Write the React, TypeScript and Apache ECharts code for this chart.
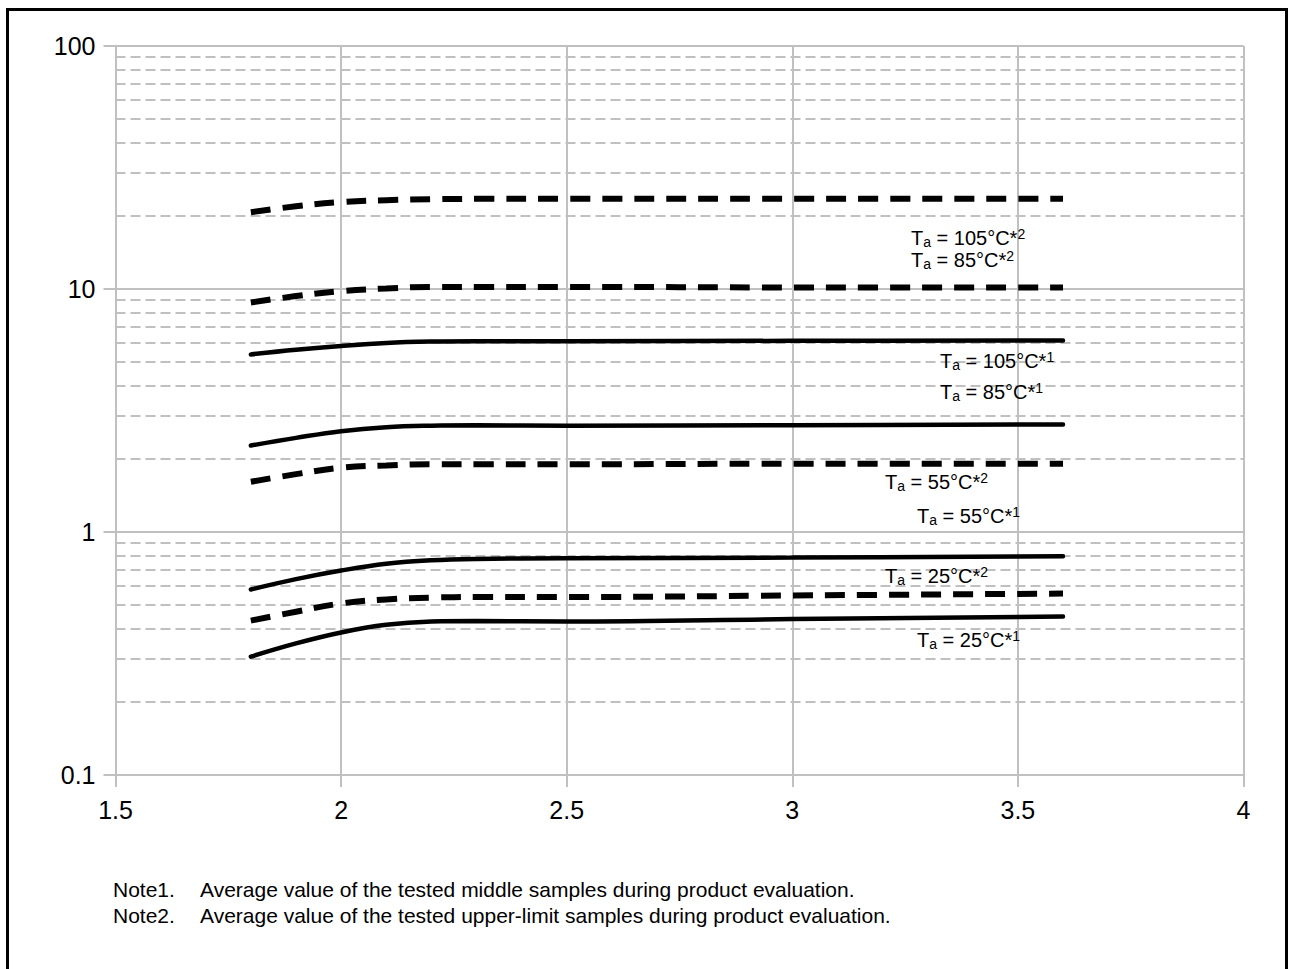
import React, { useEffect, useRef } from "react";
import * as echarts from "echarts";

// Forward voltage (x) vs value (log y)
const xValues = [1.8, 1.9, 2.0, 2.1, 2.2, 2.3, 2.5, 3.0, 3.6];

const ta105Upper = [20.7, 21.9, 22.8, 23.2, 23.4, 23.5, 23.5, 23.5, 23.5];
const ta85Upper = [8.8, 9.35, 9.8, 10.05, 10.2, 10.2, 10.2, 10.15, 10.15];
const ta105Mid = [5.38, 5.62, 5.83, 6.0, 6.08, 6.1, 6.1, 6.12, 6.14];
const ta85Mid = [2.27, 2.44, 2.6, 2.7, 2.74, 2.75, 2.74, 2.75, 2.77];
const ta55Upper = [1.61, 1.73, 1.84, 1.88, 1.9, 1.9, 1.9, 1.91, 1.91];
const ta55Mid = [0.58, 0.64, 0.694, 0.74, 0.765, 0.775, 0.78, 0.785, 0.795];
const ta25Upper = [0.432, 0.47, 0.508, 0.528, 0.537, 0.54, 0.54, 0.548, 0.558];
const ta25Mid = [0.307, 0.348, 0.386, 0.415, 0.428, 0.43, 0.428, 0.438, 0.449];

const xTicks = [1.5, 2, 2.5, 3, 3.5, 4];
const yMajor = [0.1, 1, 10, 100];
const yMinor = [0.2, 0.3, 0.4, 0.5, 0.6, 0.7, 0.8, 0.9, 2, 3, 4, 5, 6, 7, 8, 9, 20, 30, 40, 50, 60, 70, 80, 90];

const curveLabels = [
  { temp: "105", note: "2", x: 911, y: 237.5 },
  { temp: "85", note: "2", x: 911, y: 260 },
  { temp: "105", note: "1", x: 940, y: 360.5 },
  { temp: "85", note: "1", x: 940, y: 391.5 },
  { temp: "55", note: "2", x: 885, y: 481.5 },
  { temp: "55", note: "1", x: 917, y: 516 },
  { temp: "25", note: "2", x: 885, y: 576 },
  { temp: "25", note: "1", x: 917, y: 640 },
];

const notes = [
  { head: "Note1.", body: "Average value of the tested middle samples during product evaluation." },
  { head: "Note2.", body: "Average value of the tested upper-limit samples during product evaluation." },
];

const FONT = "'Liberation Sans', Arial, Helvetica, sans-serif";
const GRID_GRAY = "#c0c0c0";

function pairs(vals: number[]) {
  return xValues.map((x, i) => [x, vals[i]]);
}

export default function App() {
  const ref = useRef<HTMLDivElement>(null);
  useEffect(() => {
    if (!ref.current) return;
    const chart = echarts.init(ref.current, undefined, { renderer: "svg" });

    const dashedSeries = (name: string, vals: number[]) => ({
      name,
      type: "line",
      data: pairs(vals),
      smooth: 0.4,
      symbol: "none",
      z: 5,
      lineStyle: { color: "#000", width: 6, type: [20, 12], cap: "butt" },
    });
    const solidSeries = (name: string, vals: number[]) => ({
      name,
      type: "line",
      data: pairs(vals),
      smooth: 0.4,
      symbol: "none",
      z: 5,
      lineStyle: { color: "#000", width: 4.5, type: "solid", cap: "round" },
    });

    const graphics: any[] = [
      {
        type: "rect",
        shape: { x: 7.5, y: 9.5, width: 1279, height: 1000 },
        style: { fill: "none", stroke: "#000", lineWidth: 3 },
        silent: true,
      },
    ];
    curveLabels.forEach((l) => {
      graphics.push({
        type: "text",
        x: l.x,
        y: l.y,
        z: 10,
        style: {
          text: `{t|T}{s|a}{t| = ${l.temp}°C*}{p|${l.note}}`,
          align: "left",
          verticalAlign: "middle",
          fill: "#000",
          rich: {
            t: { fontSize: 20, fontFamily: FONT, lineHeight: 22, fill: "#000" },
            s: { fontSize: 14, fontFamily: FONT, lineHeight: 12, verticalAlign: "bottom", fill: "#000" },
            p: { fontSize: 14, fontFamily: FONT, lineHeight: 12, verticalAlign: "top", fill: "#000" },
          },
        },
      });
    });
    notes.forEach((n, i) => {
      const y = 889.5 + i * 26;
      graphics.push({
        type: "text",
        x: 113,
        y,
        style: { text: n.head, fontSize: 21, fontFamily: FONT, fill: "#000", align: "left", verticalAlign: "middle" },
      });
      graphics.push({
        type: "text",
        x: 200,
        y,
        style: { text: n.body, fontSize: 21, fontFamily: FONT, fill: "#000", align: "left", verticalAlign: "middle" },
      });
    });

    chart.setOption({
      animation: false,
      backgroundColor: "#fff",
      grid: { left: 115.5, right: 46.5, top: 46, bottom: 194, containLabel: false },
      xAxis: {
        type: "value",
        min: xTicks[0],
        max: xTicks[xTicks.length - 1],
        interval: 0.5,
        axisLine: { show: true, lineStyle: { color: GRID_GRAY, width: 2 } },
        axisTick: { show: true, length: 12, lineStyle: { color: GRID_GRAY, width: 2 } },
        axisLabel: { color: "#000", fontSize: 25, fontFamily: FONT, margin: 22 },
        splitLine: { show: true, lineStyle: { color: GRID_GRAY, width: 2, type: "solid" } },
      },
      yAxis: {
        type: "log",
        logBase: 10,
        min: yMajor[0],
        max: yMajor[yMajor.length - 1],
        axisLine: { show: true, lineStyle: { color: GRID_GRAY, width: 2 } },
        axisTick: { show: true, length: 12, lineStyle: { color: GRID_GRAY, width: 2 } },
        axisLabel: {
          color: "#000",
          fontSize: 25,
          fontFamily: FONT,
          margin: 20,
          formatter: (v: number) => String(yMajor.find((m) => Math.abs(m - v) / m < 1e-6) ?? v),
        },
        splitLine: { show: true, lineStyle: { color: GRID_GRAY, width: 2, type: "solid" } },
      },
      graphic: graphics,
      series: [
        {
          name: "minor-grid",
          type: "line",
          data: [],
          z: 1,
          silent: true,
          markLine: {
            silent: true,
            symbol: ["none", "none"],
            label: { show: false },
            lineStyle: { color: GRID_GRAY, width: 2, type: [10, 5] },
            data: yMinor.map((v) => ({ yAxis: v })),
          },
        },
        dashedSeries("Ta = 105°C *2", ta105Upper),
        dashedSeries("Ta = 85°C *2", ta85Upper),
        solidSeries("Ta = 105°C *1", ta105Mid),
        solidSeries("Ta = 85°C *1", ta85Mid),
        dashedSeries("Ta = 55°C *2", ta55Upper),
        solidSeries("Ta = 55°C *1", ta55Mid),
        dashedSeries("Ta = 25°C *2", ta25Upper),
        solidSeries("Ta = 25°C *1", ta25Mid),
      ],
    });
    return () => chart.dispose();
  }, []);
  return (
    <div
      ref={ref}
      style={{ position: "absolute", left: 0, top: 0, width: 1290, height: 969, background: "#fff" }}
    />
  );
}
